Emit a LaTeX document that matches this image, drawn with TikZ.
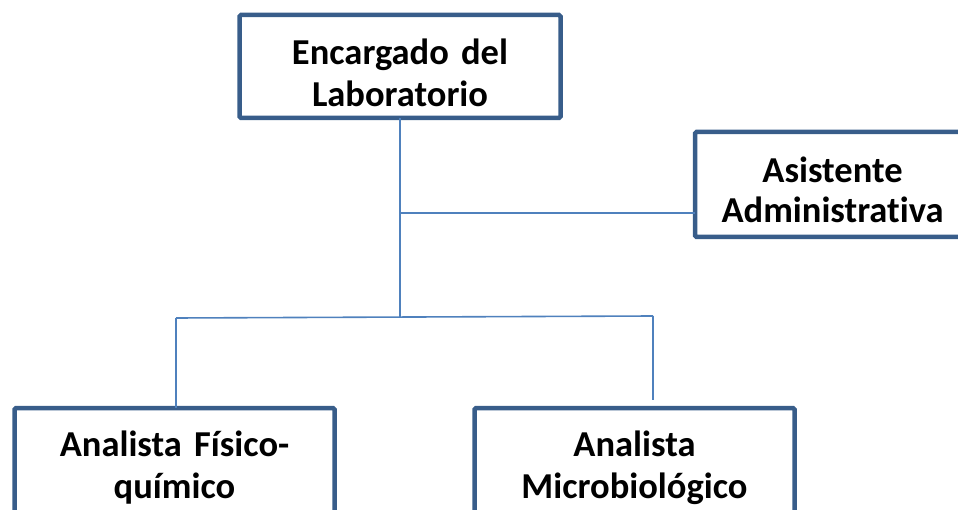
\documentclass[tikz,border=0pt]{standalone}
\usepackage{fontspec}
\setmainfont{Carlito}[Ligatures={NoCommon,NoContextual}]
\definecolor{borde}{HTML}{385D8A}
\definecolor{conector}{HTML}{4F81BD}

\begin{document}
\begin{tikzpicture}[
			x=1pt, y=-1pt
			,puesto/.style={draw=borde, line width=4.5pt, rounded corners=1.5pt, anchor=north, align=center,
				inner sep=0pt, outer sep=0pt, font=\fontsize{36.5}{42}\selectfont\bfseries}
			,enlace/.style={draw=conector, line width=1.6pt}
		]
			\clip (0,0) rectangle (958,510);
			\node [puesto, text width=321pt, text height=50pt, text depth=53pt] (enc) at (400,15) {Encargado del\\Laboratorio};
			\node [puesto, text width=275pt, text height=51pt, text depth=54pt, font=\fontsize{36.5}{40}\selectfont\bfseries] (asis) at (832.5,132) {Asistente\\Administrativa};
			\node [puesto, text width=320pt, text height=48pt, text depth=70pt] (fisq) at (174.5,408) {Analista F\'isico-\\qu\'imico};
			\node [puesto, text width=320pt, text height=48pt, text depth=70pt] (micro) at (634.5,408) {Analista\\Microbiol\'ogico};

			\coordinate (rama) at (400,213);
			\coordinate (nudo) at (400,317);
			\coordinate (izq) at (176,318);
			\coordinate (der) at (653,316);
			\coordinate (finder) at (653,400);

			\draw [enlace] (enc.south) -- (nudo);
			\draw [enlace] (rama) -- (rama -| asis.west);
			\draw [enlace] (izq) -- (der);
			\draw [enlace] (izq) -- (izq |- fisq.north);
			\draw [enlace] (der) -- (finder);
		\end{tikzpicture}
\end{document}
